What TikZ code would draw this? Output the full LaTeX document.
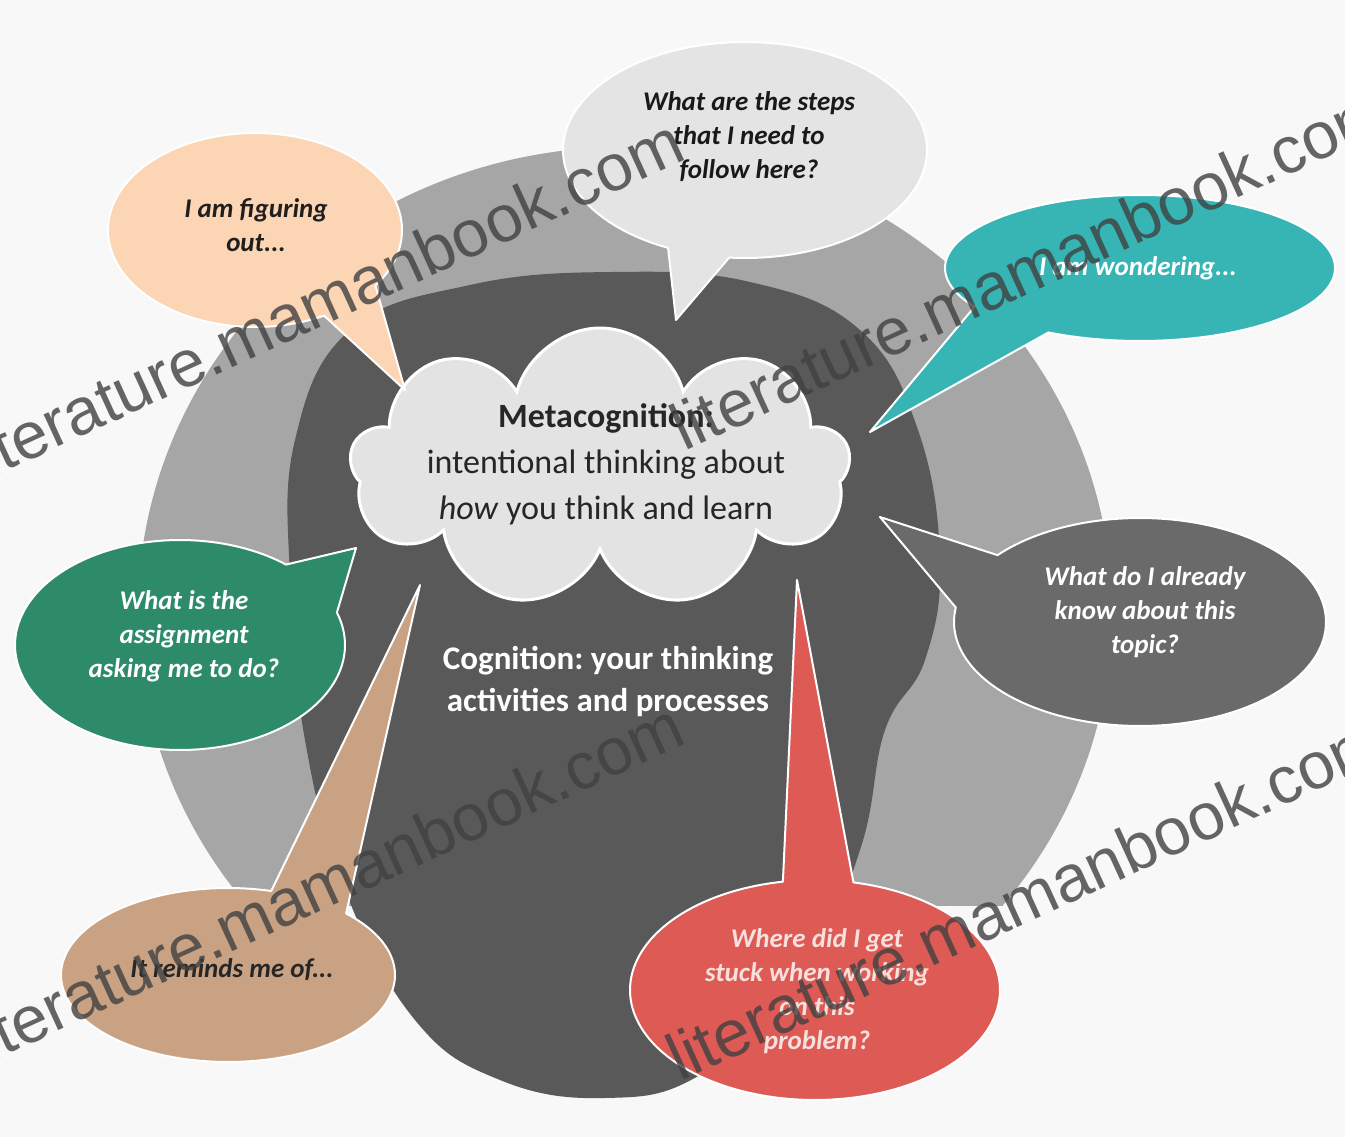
\documentclass[tikz,border=0pt]{standalone}
\usepackage{fontspec}
\setmainfont{Carlito}
\newfontfamily\wmfont{Liberation Sans}
\usetikzlibrary{shapes.symbols}
\definecolor{bgc}{HTML}{F8F8F8}
\definecolor{ringc}{HTML}{A6A6A6}
\definecolor{darkc}{HTML}{595959}
\definecolor{cloudc}{HTML}{E3E3E3}
\definecolor{cloudtext}{HTML}{262626}
\definecolor{topc}{HTML}{E4E4E4}
\definecolor{peachc}{HTML}{FCD5B4}
\definecolor{tealc}{HTML}{36B5B4}
\definecolor{greenc}{HTML}{2E8B6A}
\definecolor{greyc}{HTML}{6A6A6A}
\definecolor{tanc}{HTML}{C9A283}
\definecolor{redc}{HTML}{DD5A55}
\definecolor{redtext}{HTML}{F8E0DD}
\newcommand{\speechbub}[8]{%
  \filldraw[bub,#1] plot[variable=\t,domain=#6:#7,samples=160] ({#2+#4*cos(\t)},{#3+#5*sin(\t)}) -- (#8) -- cycle;}
\frenchspacing
\begin{document}
\begin{tikzpicture}[x=1pt,y=-1pt,
  bub/.style={draw=white, line width=2pt, line join=round},
  bubtext/.style={font=\bfseries\itshape\fontsize{27}{34}\selectfont, align=center, inner sep=0pt},
  wmark/.style={font=\wmfont\fontsize{66}{66}\selectfont, text=black!75, opacity=0.8, anchor=base west, rotate=24.6, inner sep=0pt}]
\useasboundingbox (0,0) rectangle (1345,1137);
\fill[bgc] (0,0) rectangle (1345,1137);

% outer grey cycle ring
\begin{scope}
  \clip (0,0) rectangle (1345,905);
  \fill[ringc] (625,612) ellipse [x radius=487pt, y radius=465pt];
\end{scope}

% inner dark disc (cognition)
\fill[darkc] plot[smooth cycle, tension=0.7] coordinates {
  (612,272) (750,282) (860,330) (918,430) (940,560) (925,660) (885,730)
  (860,850) (800,985) (700,1075) (605,1098) (500,1080) (415,1020)
  (345,890) (305,740) (290,580) (295,440) (350,330) (470,285)};

% cloud (metacognition)
\node[cloud, cloud puffs=9, aspect=1.85, draw=white, line width=3pt, fill=cloudc,
      minimum width=500pt, minimum height=280pt, inner sep=0pt] (cloud) at (600,468) {};
\node[font=\fontsize{34}{46}\selectfont, text=cloudtext, align=center, inner sep=0pt] (meta) at (606,464)
  {\textbf{Metacognition:}\\intentional thinking about\\\textit{how} you think and learn};
\node[font=\bfseries\fontsize{33}{42}\selectfont, text=white, align=center, inner sep=0pt] (cog) at (608,681)
  {Cognition: your thinking\\activities and processes};

% tail tips
\coordinate (tipTop) at (676,320);
\coordinate (tipPeach) at (405,390);
\coordinate (tipTeal) at (870,432);
\coordinate (tipGreen) at (356,548);
\coordinate (tipGrey) at (880,517);
\coordinate (tipTan) at (420,585);
\coordinate (tipRed) at (797,580);

% speech bubbles
\speechbub{fill=topc}{745}{150}{182}{108}{115}{455}{tipTop}
\speechbub{fill=peachc}{255}{230}{147}{97}{62}{395}{tipPeach}
\speechbub{fill=tealc}{1140}{268}{195}{73}{148}{478}{tipTeal}
\speechbub{fill=greenc}{180}{645}{165}{105}{-18}{310}{tipGreen}
\speechbub{fill=greyc}{1140}{622}{186}{104}{-140}{188}{tipGrey}
\speechbub{fill=tanc}{228}{975}{167}{87}{-45}{285}{tipTan}
\speechbub{fill=redc}{815}{990}{185}{110}{-78}{260}{tipRed}

% bubble texts
\node[bubtext, text=black!90] (qTop) at (749,137) {What are the steps\\that I need to\\follow here?};
\node[bubtext, text=black!88] (qPeach) at (256,225) {I am figuring\\out...};
\node[bubtext, text=white] (qTeal) at (1138,268) {I am wondering...};
\node[bubtext, text=white] (qGreen) at (184,636) {What is the\\assignment\\asking me to do?};
\node[bubtext, text=white] (qGrey) at (1145,612) {What do I already\\know about this\\topic?};
\node[bubtext, text=black!85] (qTan) at (232,970) {It reminds me of...};
\node[bubtext, text=redtext] (qRed) at (817,991) {Where did I get\\stuck when working\\on this\\problem?};

% watermarks
\node[wmark] (wm1) at (-22,484) {literature.mamanbook.com};
\node[wmark] (wm2) at (684,452) {literature.mamanbook.com};
\node[wmark] (wm3) at (-22,1068) {literature.mamanbook.com};
\node[wmark] (wm4) at (680,1082) {literature.mamanbook.com};
\end{tikzpicture}
\end{document}
